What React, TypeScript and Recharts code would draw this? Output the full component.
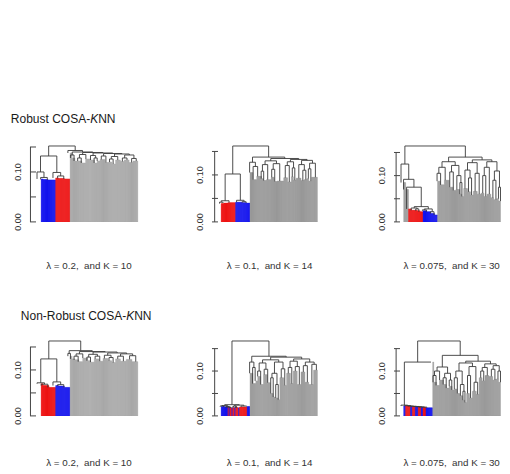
import React from 'react';
import { ComposedChart, Bar, Cell, XAxis, YAxis, ReferenceLine } from 'recharts';

// Dendrogram trees: a leaf block is [colour, leaf count, height],
// a merge is [height, left subtree, right subtree].
type Tree = [string, number, number] | [number, Tree, Tree];

// Robust COSA-KNN, lambda = 0.2, K = 10
const robustA: Tree = [0.152,
  [0.132,
    [0.100, ['b', 2, 0.086], [0.089, ['b', 5, 0.085], ['b', 8, 0.084]]],
    [0.099, ['r', 3, 0.088], [0.092, ['r', 6, 0.087], ['r', 6, 0.086]]]],
  [0.143,
    ['g', 2, 0.138],
    [0.140,
      [0.134, ['g', 3, 0.128], ['g', 4, 0.122]],
      [0.139,
        [0.135, [0.128, ['g', 3, 0.122], ['g', 4, 0.118]], ['g', 5, 0.126]],
        [0.138,
          [0.133, ['g', 4, 0.124], [0.128, ['g', 3, 0.118], ['g', 3, 0.122]]],
          [0.137,
            [0.132, ['g', 5, 0.125], ['g', 4, 0.119]],
            [0.136,
              [0.131, [0.126, ['g', 3, 0.120], ['g', 4, 0.116]], ['g', 5, 0.124]],
              [0.134, [0.128, ['g', 4, 0.121], ['g', 5, 0.124]], [0.127, ['g', 4, 0.119], ['g', 5, 0.122]]]]]]]]]];

// Robust COSA-KNN, lambda = 0.1, K = 14
const robustB: Tree = [0.1616,
  [0.102,
    [0.045, [0.042, ['r', 3, 0.039], ['r', 4, 0.040]], ['r', 8, 0.041]],
    [0.046, ['b', 7, 0.042], [0.043, ['b', 4, 0.041], ['b', 4, 0.040]]]],
  [0.138,
    [0.127, ['g', 3, 0.105], [0.118, ['g', 4, 0.090], ['g', 5, 0.097]]],
    [0.135,
      [0.130,
        [0.122, [0.108, ['g', 2, 0.092], ['g', 3, 0.088]], ['g', 5, 0.090]],
        [0.124, [0.112, ['g', 3, 0.095], ['g', 3, 0.086]], ['g', 7, 0.087]]],
      [0.133,
        [0.128, [0.120, ['g', 4, 0.094], ['g', 4, 0.085]], [0.115, ['g', 2, 0.096], ['g', 3, 0.089]]],
        [0.131,
          [0.122, ['g', 5, 0.093], [0.110, ['g', 3, 0.088], ['g', 3, 0.090]]],
          [0.125, [0.113, ['g', 2, 0.092], ['g', 3, 0.087]], ['g', 6, 0.095]]]]]]];

// Robust COSA-KNN, lambda = 0.075, K = 30
const robustC: Tree = [0.164,
  [0.125,
    ['g', 2, 0.085],
    [0.092,
      ['g', 3, 0.070],
      [0.075,
        ['r', 3, 0.028],
        [0.033,
          [0.030, ['r', 6, 0.025], [0.028, ['r', 3, 0.024], ['r', 3, 0.022]]],
          [0.028, [0.026, ['b', 4, 0.024], ['b', 4, 0.022]], [0.022, ['b', 4, 0.018], ['b', 3, 0.015]]]]]]],
  [0.140,
    [0.130,
      [0.118, [0.105, ['g', 3, 0.088], ['g', 4, 0.080]], ['g', 5, 0.090]],
      [0.122, [0.108, ['g', 4, 0.075], ['g', 3, 0.068]], [0.100, ['g', 4, 0.070], [0.085, ['g', 2, 0.060], ['g', 2, 0.055]]]]],
    [0.134,
      [0.128, [0.112, ['g', 4, 0.072], [0.095, ['g', 3, 0.065], ['g', 3, 0.058]]], [0.105, ['g', 4, 0.066], ['g', 4, 0.060]]],
      [0.130,
        [0.118, [0.100, ['g', 3, 0.062], ['g', 3, 0.055]], ['g', 4, 0.060]],
        [0.110, [0.090, ['g', 3, 0.052], ['g', 3, 0.048]], [0.075, ['g', 2, 0.050], ['g', 2, 0.045]]]]]]];

// Non-Robust COSA-KNN, lambda = 0.2, K = 10
const nonRobustA: Tree = [0.163,
  [0.124,
    [0.072, ['r', 2, 0.070], [0.069, ['r', 6, 0.066], ['r', 7, 0.062]]],
    [0.074, ['b', 3, 0.066], [0.068, ['b', 6, 0.065], ['b', 6, 0.062]]]],
  [0.142,
    [0.136, ['g', 2, 0.130], ['g', 3, 0.124]],
    [0.140,
      [0.135, [0.130, ['g', 4, 0.122], ['g', 4, 0.118]], ['g', 5, 0.126]],
      [0.139,
        [0.134, [0.128, ['g', 3, 0.120], ['g', 4, 0.117]], [0.130, ['g', 5, 0.124], ['g', 4, 0.119]]],
        [0.137,
          [0.132, ['g', 5, 0.125], [0.127, ['g', 4, 0.120], ['g', 4, 0.116]]],
          [0.135, [0.130, ['g', 5, 0.124], ['g', 6, 0.119]], [0.131, ['g', 6, 0.123], ['g', 6, 0.118]]]]]]]];

// Non-Robust COSA-KNN, lambda = 0.1, K = 14
const nonRobustB: Tree = [0.167,
  [0.025,
    [0.023,
      [0.022, ['b', 4, 0.021], ['b', 3, 0.020]],
      [0.021, [0.020, ['r', 1, 0.019], ['b', 1, 0.019]], [0.020, ['r', 2, 0.018], [0.019, ['b', 1, 0.018], ['r', 2, 0.018]]]]],
    [0.024,
      [0.022, [0.020, ['b', 1, 0.019], ['r', 2, 0.019]], [0.021, ['r', 1, 0.018], ['b', 1, 0.018]]],
      [0.022, ['r', 8, 0.020], ['b', 3, 0.021]]]],
  [0.133,
    [0.120, ['g', 3, 0.095], [0.108, ['g', 3, 0.072], ['g', 2, 0.078]]],
    [0.131,
      [0.125,
        [0.118, [0.100, ['g', 3, 0.088], ['g', 3, 0.070]], [0.104, ['g', 4, 0.092], ['g', 3, 0.074]]],
        [0.120,
          [0.095, [0.085, ['g', 3, 0.050], ['g', 2, 0.042]], [0.070, ['g', 3, 0.040], ['g', 2, 0.036]]],
          [0.105, ['g', 4, 0.085], ['g', 3, 0.068]]]],
      [0.127,
        [0.122, [0.108, ['g', 4, 0.095], ['g', 3, 0.072]], [0.110, ['g', 4, 0.100], ['g', 4, 0.070]]],
        [0.120, [0.112, ['g', 4, 0.098], ['g', 4, 0.075]], [0.115, ['g', 5, 0.070], ['g', 4, 0.102]]]]]]];

// Non-Robust COSA-KNN, lambda = 0.075, K = 30
const nonRobustC: Tree = [0.167,
  [0.120,
    [0.024, ['b', 2, 0.022],
      [0.023, ['r', 5, 0.022],
        [0.022, ['b', 2, 0.021],
          [0.0215, ['r', 3, 0.021],
            [0.021, ['b', 3, 0.020],
              [0.0205, ['r', 3, 0.020],
                [0.020, ['b', 2, 0.019],
                  [0.0195, ['r', 3, 0.019], ['b', 7, 0.018]]]]]]]]],
    ['g', 1, 0.120]],
  [0.135,
    [0.109,
      [0.100, [0.090, ['g', 3, 0.075], ['g', 3, 0.068]], ['g', 4, 0.080]],
      [0.095, [0.085, ['g', 3, 0.070], ['g', 3, 0.062]], [0.080, ['g', 3, 0.066], ['g', 2, 0.058]]]],
    [0.122,
      [0.118,
        [0.100, [0.085, ['g', 3, 0.060], ['g', 3, 0.050]], [0.070, ['g', 3, 0.045], [0.055, ['g', 2, 0.035], ['g', 2, 0.030]]]],
        [0.110, [0.090, ['g', 3, 0.050], ['g', 3, 0.040]], [0.075, ['g', 4, 0.055], ['g', 3, 0.048]]]],
      [0.116,
        [0.108, [0.100, ['g', 3, 0.085], ['g', 3, 0.078]], ['g', 4, 0.090]],
        [0.112, [0.104, ['g', 4, 0.088], ['g', 3, 0.080]], [0.100, ['g', 3, 0.082], ['g', 2, 0.075]]]]]]];

const panelTrees = [robustA, robustB, robustC, nonRobustA, nonRobustB, nonRobustC];
const lambdas = ['0.2', '0.1', '0.075'];
const kValues = [10, 14, 30];
const rowTitles = ['Robust COSA-', 'Non-Robust COSA-'];
const yTicks = [0, 0.05, 0.1, 0.15];
const yTickLabels = ['0.00', '', '0.10', ''];

const FONT = '"Liberation Sans", Arial, Helvetica, sans-serif';
const CLUSTER = { b: '#1212EE', r: '#EE1212' };
const GRAYS = ['#A8A8A8', '#989898', '#9A9A9A', '#A8A8A8', '#9C9C9C', '#9A9A9A'];
const LINE = '#3a3a3a';

// pixel placement of the three columns and two rows of panels
const COLS = [
  { axis: 35.5, start: 40.7, end: 137.3, center: 89 },
  { axis: 218.3, start: 221.5, end: 317.7, center: 269.6 },
  { axis: 399.5, start: 403.2, end: 500, center: 451.6 },
];
const ROWS = [
  { top: 145.7, zero: 221.6, titleX: 10.8, titleY: 123.3, subY: 268.8 },
  { top: 340.7, zero: 415.6, titleX: 20.8, titleY: 320, subY: 466.3 },
];

type Leaf = { k: number; h: number; fill: string };

function layoutTree(tree: Tree, gray: string) {
  const leaves: Leaf[] = [];
  const segs: number[][] = [];
  const walk = (node: Tree): { x: number; y: number } => {
    if (typeof node[0] === 'string') {
      const [c, count, h] = node as [string, number, number];
      const start = leaves.length;
      const fill = c === 'g' ? gray : CLUSTER[c as 'b' | 'r'];
      for (let i = 0; i < count; i++) leaves.push({ k: leaves.length, h, fill });
      return { x: start + count / 2, y: h };
    }
    const [h, a, b] = node as [number, Tree, Tree];
    const l = walk(a);
    const r = walk(b);
    if (l.y < h) segs.push([l.x, l.y, l.x, h]);
    segs.push([l.x, h, r.x, h]);
    if (r.y < h) segs.push([r.x, r.y, r.x, h]);
    return { x: (l.x + r.x) / 2, y: h };
  };
  walk(tree);
  return { leaves, segs };
}

const YTick = (props: any) => {
  const { x, y, payload } = props;
  const label = yTickLabels[yTicks.indexOf(payload.value)];
  if (!label) return null;
  return (
    <text
      transform={`translate(${x - 12},${y}) rotate(-90)`}
      textAnchor="middle"
      dy="0.35em"
      fontSize={9}
      fontFamily={FONT}
      fill="#333"
    >
      {label}
    </text>
  );
};

function Dendrogram({ tree, col, row, gray }: { tree: Tree; col: typeof COLS[0]; row: typeof ROWS[0]; gray: string }) {
  const { leaves, segs } = layoutTree(tree, gray);
  const n = leaves.length;
  const gapPx = col.start - col.axis;
  const xMin = -gapPx / ((col.end - col.start) / n);
  const top = tree[0] as number;
  const YW = 34;
  const M = 4;
  const MB = 14;
  const width = YW + (col.end - col.axis) + M;
  const height = row.zero - row.top + M + MB;

  return (
    <div style={{ position: 'absolute', left: col.axis - YW, top: row.top - M }}>
      <ComposedChart
        width={width}
        height={height}
        data={leaves}
        margin={{ top: M, right: M, bottom: MB, left: 0 }}
        barCategoryGap={0}
      >
        <XAxis xAxisId="leaf" dataKey="k" type="category" hide padding={{ left: gapPx, right: 0 }} />
        <XAxis xAxisId="tree" type="number" domain={[xMin, n]} allowDataOverflow hide />
        <YAxis
          type="number"
          domain={[0, top]}
          allowDataOverflow
          ticks={yTicks}
          interval={0}
          width={YW}
          axisLine={false}
          tickLine={{ stroke: '#444' }}
          tickSize={6}
          tickMargin={0}
          tick={(p: any) => <YTick {...p} />}
        />
        <Bar xAxisId="leaf" dataKey="h" isAnimationActive={false}>
          {leaves.map((d, i) => (
            <Cell key={i} fill={d.fill} stroke={d.fill} strokeWidth={0.4} />
          ))}
        </Bar>
        <ReferenceLine
          xAxisId="tree"
          segment={[{ x: xMin, y: 0 }, { x: xMin, y: 0.15 }]}
          stroke="#444"
          ifOverflow="visible"
        />
        {segs.map((s, i) => (
          <ReferenceLine
            key={i}
            xAxisId="tree"
            segment={[{ x: s[0], y: s[1] }, { x: s[2], y: s[3] }]}
            stroke={LINE}
            strokeWidth={0.9}
            ifOverflow="visible"
          />
        ))}
      </ComposedChart>
    </div>
  );
}

export default function App() {
  return (
    <div style={{ position: 'absolute', left: 0, top: 0, width: 510, height: 474, background: '#fff' }}>
      {panelTrees.map((tree, i) => (
        <Dendrogram key={i} tree={tree} col={COLS[i % 3]} row={ROWS[Math.floor(i / 3)]} gray={GRAYS[i]} />
      ))}
      <svg width={510} height={474} style={{ position: 'absolute', left: 0, top: 0, pointerEvents: 'none' }}>
        {ROWS.map((row, r) => (
          <g key={r} fontFamily={FONT}>
            <text x={row.titleX} y={row.titleY} fontSize={12} fill="#1a1a1a">
              {rowTitles[r]}
              <tspan fontStyle="italic">K</tspan>NN
            </text>
            {COLS.map((col, c) => (
              <text
                key={c}
                x={col.center}
                y={row.subY}
                textAnchor="middle"
                fontSize={9.8}
                fill="#333"
                style={{ whiteSpace: 'pre' }}
              >
                {`λ = ${lambdas[c]},  and K = ${kValues[c]}`}
              </text>
            ))}
          </g>
        ))}
      </svg>
    </div>
  );
}
